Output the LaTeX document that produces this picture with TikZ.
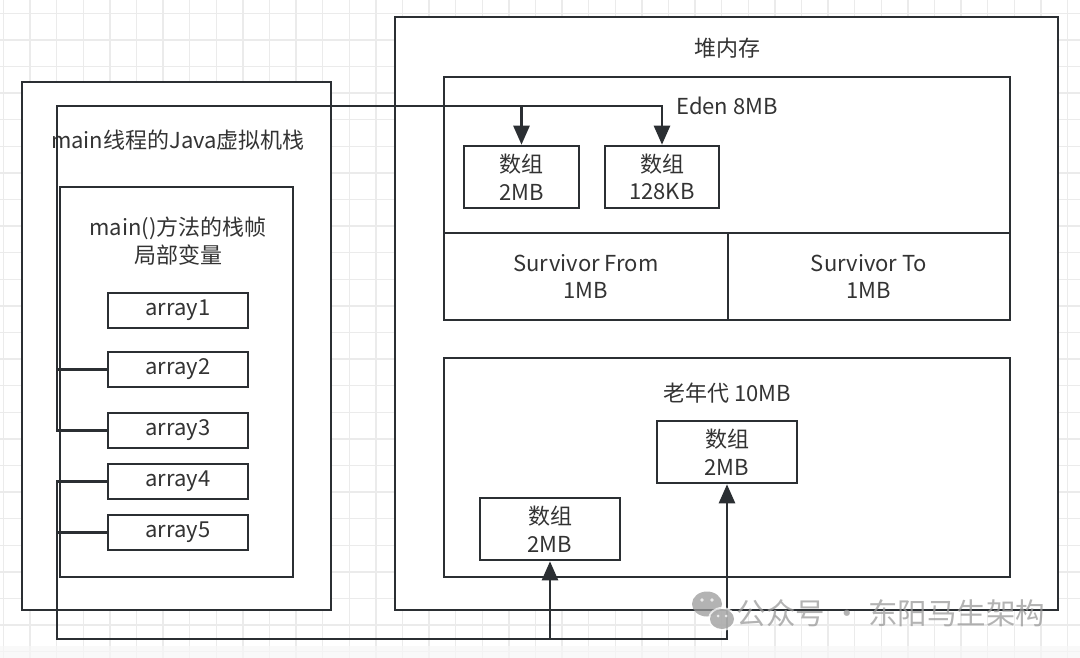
\documentclass[tikz,border=0pt]{standalone}
\usepackage{fontspec}
\setmainfont{Noto Sans CJK SC}
\usetikzlibrary{arrows.meta}
\definecolor{lc}{HTML}{2B2F33}
\definecolor{tc}{HTML}{333333}
\definecolor{gridc}{HTML}{EBEBEB}
\definecolor{wm}{HTML}{9A9A9A}
\tikzset{
  box/.style={draw=lc, line width=2.6pt, inner sep=0pt, fill=white},
  txt/.style={font=\fontsize{22}{27.5}\selectfont, text=tc, align=center, inner sep=0pt},
  conn/.style={draw=lc, line width=2.6pt},
  arr/.style={conn, -{Triangle[length=19pt,width=16pt]}},
  gridline/.style={draw=gridc, line width=1.4pt}
}
\begin{document}
\begin{tikzpicture}[x=1pt,y=-1pt]
\useasboundingbox (0,0) rectangle (1080,658);
\fill[white] (0,0) rectangle (1080,658);
\foreach \i in {0,...,40} {\draw[gridline] (3.5+26.6*\i,0) -- ++(0,658);}
\foreach \j in {0,...,24} {\draw[gridline] (0,13.3+26.6*\j) -- ++(1080,0);}
\fill[gray!6, opacity=0.7] (0,646) rectangle (1080,658);

% left: Java stack
\node[box, minimum width=309pt, minimum height=528pt] (stack) at (176.5,346) {};
\node[txt] (stacklbl) at (178,140) {main线程的Java虚拟机栈};
\node[box, minimum width=233pt, minimum height=390pt] (frm) at (176.5,382) {};
\node[txt] (frmlbl) at (178,241) {main()方法的栈帧\\局部变量};
\foreach \n/\y in {1/310.5,2/369.5,3/430.5,4/481.5,5/532.5}
  {\node[box, minimum width=140pt, minimum height=35pt, txt] (a\n) at (178,\y) {array\n};}

% right: heap
\node[box, minimum width=663pt, minimum height=593pt] (heap) at (726.5,313.5) {};
\node[txt] (heaplbl) at (727,48) {堆内存};
\node[box, minimum width=566pt, minimum height=156pt] (eden) at (727,155) {};
\node[txt] (edenlbl) at (727,106) {Eden 8MB};
\node[box, minimum width=284pt, minimum height=87pt, txt] (sfrom) at (586,276.5) {Survivor From\\1MB};
\node[box, minimum width=282pt, minimum height=87pt, txt] (sto) at (869,276.5) {Survivor To\\1MB};
\node[box, minimum width=115pt, minimum height=62pt, txt] (e1) at (521.5,177) {数组\\2MB};
\node[box, minimum width=114pt, minimum height=62pt, txt] (e2) at (662,177) {数组\\128KB};
\node[box, minimum width=566pt, minimum height=219pt] (old) at (727,467.5) {};
\node[txt] (oldlbl) at (727,393) {老年代 10MB};
\node[box, minimum width=140pt, minimum height=62pt, txt] (oA) at (727,452) {数组\\2MB};
\node[box, minimum width=140pt, minimum height=62pt, txt] (oB) at (550,529) {数组\\2MB};

% connectors
\coordinate (ltop) at (57,106);
\coordinate (lbot) at (57,639);
\coordinate (j1) at (e1.north |- ltop);
\draw[conn] (a2.west) -- (ltop |- a2.west);
\draw[arr] (a3.west) -| (ltop) -| (e2.north);
\draw[arr] (j1) -- (e1.north);
\draw[conn] (a5.west) -- (lbot |- a5.west);
\draw[arr] (a4.west) -| (lbot) -| (oA.south);
\coordinate (j2) at (oB.south |- lbot);
\draw[arr] (j2) -- (oB.south);

% watermark
\begin{scope}[opacity=0.75]
\fill[wm] (707,604) ellipse (15pt and 12.5pt);
\fill[white] (722,619) ellipse (14pt and 12pt);
\fill[wm] (722,619) ellipse (12pt and 10pt);
\fill[white] (702,600) circle (1.8pt) (712,600) circle (1.8pt) (718,616) circle (1.5pt) (726,616) circle (1.5pt);
\node[font=\fontsize{29.5}{31}\selectfont, text=wm, inner sep=0pt] (wmtext) at (891,613) {公众号 · 东阳马生架构};
\end{scope}
\end{tikzpicture}
\end{document}
